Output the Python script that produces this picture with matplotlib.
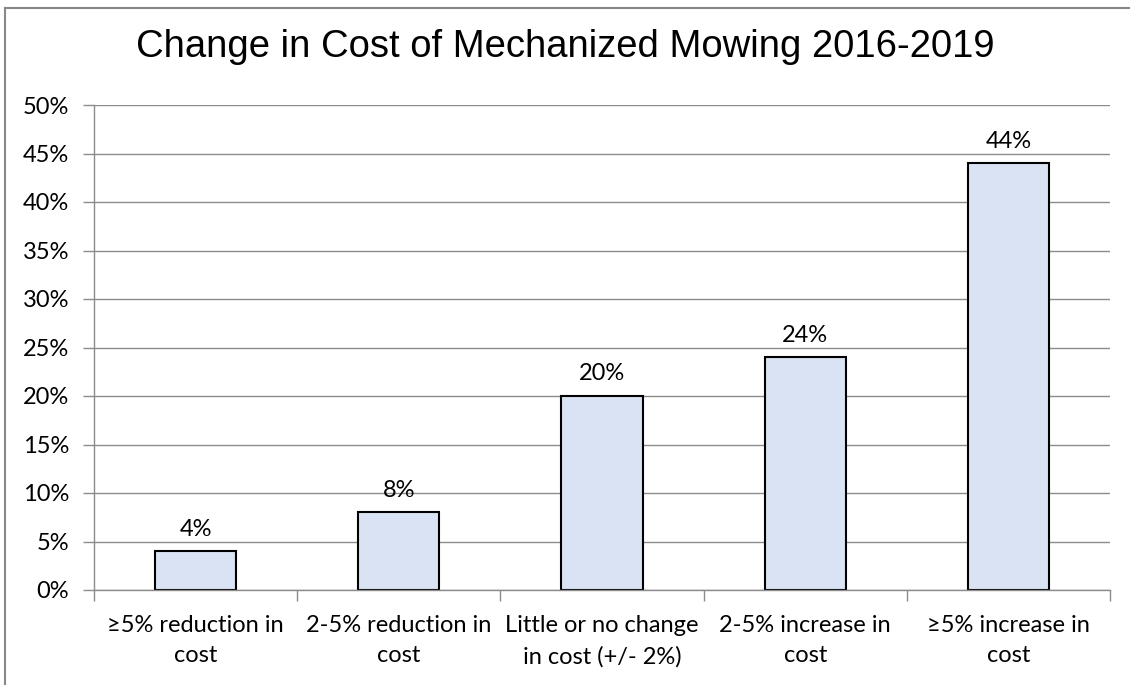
import matplotlib
matplotlib.use("Agg")
import matplotlib.pyplot as plt
from matplotlib.lines import Line2D
import numpy as np

categories = ["\u22655% reduction in\ncost", "2-5% reduction in\ncost",
              "Little or no change\nin cost (+/- 2%)", "2-5% increase in\ncost",
              "\u22655% increase in\ncost"]
values = [4, 8, 20, 24, 44]
yticks = [0, 5, 10, 15, 20, 25, 30, 35, 40, 45, 50]

W, H = 1130, 685
fig = plt.figure(figsize=(W / 100, H / 100), dpi=100)
ax = fig.add_axes([94 / W, 1 - 590 / H, (1110 - 94) / W, (590 - 105) / H])

lab_font = ["Lato", "DejaVu Sans"]
grid_c = "#8c8c8c"

x = np.arange(len(values))
ax.bar(x, values, width=0.40, color="#dae3f3", edgecolor="black", linewidth=1.5, zorder=3)
for xi, v in zip(x, values):
    ax.text(xi, v + 1.2, f"{v}%", ha="center", va="bottom", fontsize=17, family=lab_font, color="#000000")

ax.set_xlim(-0.5, len(values) - 0.5)
ax.set_ylim(0, 50)
ax.set_yticks(yticks)
ax.set_yticklabels([f"{t}%" for t in yticks], family=lab_font, fontsize=17)
ax.yaxis.grid(True, color=grid_c, linewidth=1, zorder=0)
ax.set_axisbelow(True)

ax.set_xticks(np.arange(len(values) + 1) - 0.5)
ax.set_xticklabels([])
ax.set_xticks(x, minor=True)
ax.set_xticklabels(categories, minor=True, family=lab_font, fontsize=17, linespacing=1.55)
ax.tick_params(axis="x", which="minor", length=0, pad=18)
ax.tick_params(axis="x", which="major", length=8, color=grid_c, width=1)
ax.tick_params(axis="y", length=8, color=grid_c, width=1, pad=10)

for s in ["top", "right"]:
    ax.spines[s].set_visible(False)
for s in ["left", "bottom"]:
    ax.spines[s].set_color(grid_c)
    ax.spines[s].set_linewidth(1)
    ax.spines[s].set_zorder(4)

fig.text(0.5, 1 - 47 / H, "Change in Cost of Mechanized Mowing 2016-2019", ha="center", va="center",
         fontsize=27.5, family=["Liberation Sans", "DejaVu Sans"])

# outer chart border (only top and left visible)
fig.add_artist(Line2D([5 / W, 5 / W], [0, 1 - 8 / H], transform=fig.transFigure, color="#888888", lw=1.5))
fig.add_artist(Line2D([5 / W, 1], [1 - 8 / H, 1 - 8 / H], transform=fig.transFigure, color="#888888", lw=1.5))

fig.savefig("out.png", dpi=100)
